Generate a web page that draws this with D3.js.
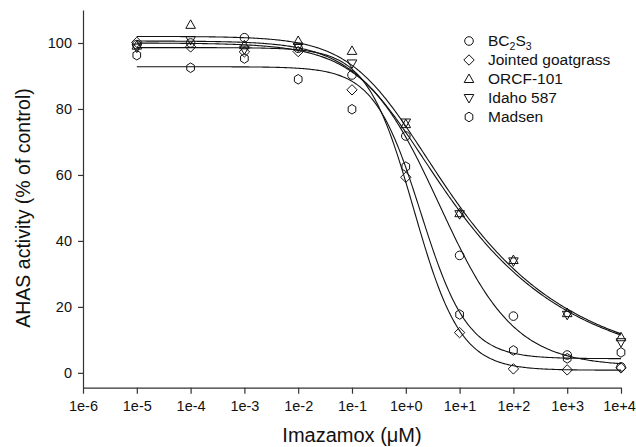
<!DOCTYPE html>
<html><head><meta charset="utf-8">
<script src="https://cdn.jsdelivr.net/npm/d3@7"></script>
<style>
html,body{margin:0;padding:0;background:#fff;}
svg{display:block;font-family:Arial,"Liberation Sans",sans-serif;}
</style></head>
<body>
<svg id="chart" width="636" height="447"></svg>
<script>
// ---- data ----
const doses = [1e-5, 1e-4, 1e-3, 1e-2, 1e-1, 1e0, 1e1, 1e2, 1e3, 1e4];
const seriesNames = ["BC2S3", "Jointed goatgrass", "ORCF-101", "Idaho 587", "Madsen"];
const bc2s3   = [99.5, 100.0, 101.6, 98.4, 90.3, 71.8, 35.6, 17.2, 5.4, 1.8];
const jointed = [100.2, 98.8, 97.3, 97.4, 85.8, 59.3, 12.2, 1.2, 0.9, 1.5];
const orcf    = [99.2, 105.5, 99.3, 100.6, 97.6, 75.4, 48.4, 34.2, 18.1, 10.8];
const idaho   = [98.6, 100.9, 98.0, 98.9, 93.8, 75.9, 48.1, 33.8, 17.6, 9.3];
const madsen  = [96.3, 92.5, 95.3, 89.0, 79.9, 62.5, 17.7, 6.8, 4.4, 6.2];
// fitted dose-response parameters (top, bottom, EC50, hill slope, asymmetry)
const fitTop    = [100.0, 98.6, 102.0, 100.6, 92.8];
const fitBottom = [2.0, 0.8, 0.0, 0.0, 4.3];
const fitEC50   = [4.2, 1.4, 0.434, 0.40, 1.9];
const fitHill   = [0.62, 1.0, 0.715, 0.715, 1.0];
const fitAsym   = [1, 1, 0.3, 0.3, 1];
const xTickValues = [1e-6, 1e-5, 1e-4, 1e-3, 1e-2, 1e-1, 1e0, 1e1, 1e2, 1e3, 1e4];
const xTickLabels = ["1e-6","1e-5","1e-4","1e-3","1e-2","1e-1","1e+0","1e+1","1e+2","1e+3","1e+4"];
const yTickValues = [0, 20, 40, 60, 80, 100];
const symbols = ["circle", "diamond", "triangleUp", "triangleDown", "hexagon"];
const values = [bc2s3, jointed, orcf, idaho, madsen];

// ---- scales ----
const svg = d3.select("#chart");
const x = d3.scaleLog().domain([1e-6, 1e4]).range([83, 621]);
const y = d3.scaleLinear().domain([-4.5, 110]).range([387.7, 10]);

// ---- axes ----
const xAxis = d3.axisBottom(x).tickValues(xTickValues)
  .tickFormat((d, i) => xTickLabels[i]).tickSize(6).tickSizeOuter(0).tickPadding(7);
const gx = svg.append("g").attr("transform", "translate(0,387.7)").call(xAxis);
const yAxis = d3.axisLeft(y).tickValues(yTickValues).tickSize(5).tickSizeOuter(0).tickPadding(6);
const gy = svg.append("g").attr("transform", "translate(83,0)").call(yAxis);
[gx, gy].forEach(g => {
  g.selectAll("path.domain").attr("stroke", "#333").attr("stroke-width", 1.2);
  g.selectAll(".tick line").attr("stroke", "#333").attr("stroke-width", 1.2);
  g.selectAll(".tick text").attr("fill", "#111").style("font-size", "14.5px")
    .style("font-family", "Arial, 'Liberation Sans', sans-serif");
});
// keep the last x label inside the canvas
gx.selectAll(".tick text").filter((d, i) => i === xTickValues.length - 1).attr("dx", -2);

// axis titles
svg.append("text").attr("x", 352).attr("y", 442).attr("text-anchor", "middle")
  .style("font-size", "20px").attr("fill", "#111").text("Imazamox (\u03BCM)");
svg.append("text").attr("transform", "translate(30,208) rotate(-90)").attr("text-anchor", "middle")
  .style("font-size", "19.5px").attr("fill", "#111").text("AHAS activity (% of control)");

// ---- marker shapes ----
function shapePath(type) {
  const p = d3.path();
  if (type === "circle") { p.moveTo(4.3, 0); p.arc(0, 0, 4.3, 0, 2 * Math.PI); }
  else if (type === "diamond") { const r = 5.2; p.moveTo(0, -r); p.lineTo(r, 0); p.lineTo(0, r); p.lineTo(-r, 0); p.closePath(); }
  else if (type === "triangleUp") { p.moveTo(0, -5); p.lineTo(4.8, 3.5); p.lineTo(-4.8, 3.5); p.closePath(); }
  else if (type === "triangleDown") { p.moveTo(0, 5); p.lineTo(4.8, -3.5); p.lineTo(-4.8, -3.5); p.closePath(); }
  else if (type === "hexagon") {
    const r = 4.8;
    for (let k = 0; k < 6; k++) {
      const a = -Math.PI / 2 + k * Math.PI / 3;
      const px = r * Math.cos(a) * 0.92, py = r * Math.sin(a);
      if (k === 0) p.moveTo(px, py); else p.lineTo(px, py);
    }
    p.closePath();
  }
  return p.toString();
}

// ---- fitted curves ----
function fit(i, d) {
  const u = 1 + Math.pow(d / fitEC50[i], fitHill[i]);
  return fitBottom[i] + (fitTop[i] - fitBottom[i]) / Math.pow(u, fitAsym[i]);
}
const curveDoses = d3.range(0, 361).map(k => Math.pow(10, -5 + k * 9 / 360));
const line = d3.line().x(d => x(d[0])).y(d => y(d[1]));
const gCurves = svg.append("g");
values.forEach((vals, i) => {
  gCurves.append("path").datum(curveDoses.map(d => [d, fit(i, d)]))
    .attr("d", line).attr("fill", "none").attr("stroke", "#111").attr("stroke-width", 1.1);
});

// ---- points ----
const gPts = svg.append("g");
values.forEach((vals, i) => {
  gPts.selectAll(null).data(vals.map((v, j) => [doses[j], v])).enter().append("path")
    .attr("transform", d => `translate(${x(d[0])},${y(d[1])})`)
    .attr("d", shapePath(symbols[i]))
    .attr("fill", "none").attr("stroke", "#111").attr("stroke-width", 1);
});

// ---- legend ----
const lg = svg.append("g");
const legendY = [41, 60, 79, 98, 117];
seriesNames.forEach((name, i) => {
  lg.append("path").attr("transform", `translate(469,${legendY[i]})`)
    .attr("d", shapePath(symbols[i])).attr("fill", "none").attr("stroke", "#111").attr("stroke-width", 1);
  const t = lg.append("text").attr("x", 488).attr("y", legendY[i] + 5)
    .style("font-size", "15.5px").attr("fill", "#111");
  if (name === "BC2S3") {
    t.append("tspan").text("BC");
    t.append("tspan").attr("dy", 4).style("font-size", "10.5px").text("2");
    t.append("tspan").attr("dy", -4).text("S");
    t.append("tspan").attr("dy", 4).style("font-size", "10.5px").text("3");
  } else {
    t.text(name);
  }
});
</script>
</body></html>
